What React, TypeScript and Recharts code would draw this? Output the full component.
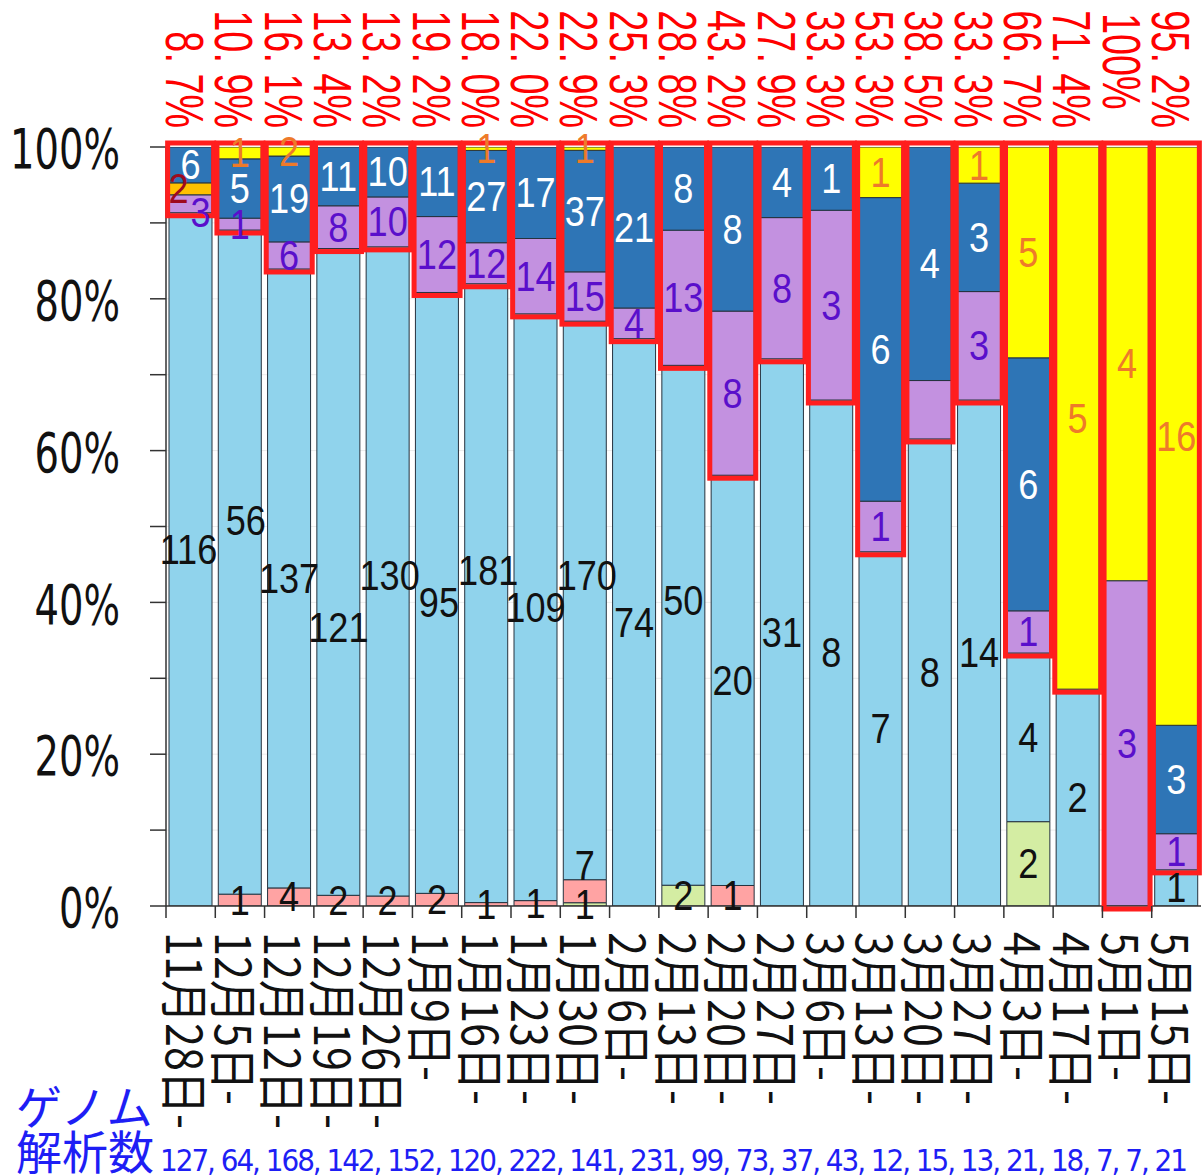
import { BarChart, Bar, XAxis, YAxis, CartesianGrid, ReferenceArea, LabelList } from 'recharts';

// 集計週 (開始日)
const dates = [
  '11月28日', '12月5日', '12月12日', '12月19日', '12月26日', '1月9日', '1月16日',
  '1月23日', '1月30日', '2月6日', '2月13日', '2月20日', '2月27日', '3月6日',
  '3月13日', '3月20日', '3月27日', '4月3日', '4月17日', '5月1日', '5月15日',
];

// ゲノム解析数
const totals = [127, 64, 168, 142, 152, 120, 222, 141, 231, 99, 73, 37, 43, 12, 15, 13, 21, 18, 7, 7, 21];

// series counts, bottom to top of the stack
const lightGreen = [0, 0, 0, 0, 0, 0, 0, 0, 1, 0, 2, 0, 0, 0, 0, 0, 0, 2, 0, 0, 0];
const pink = [0, 1, 4, 2, 2, 2, 1, 1, 7, 0, 0, 1, 0, 0, 0, 0, 0, 0, 0, 0, 0];
const lightBlue = [116, 56, 137, 121, 130, 95, 181, 109, 170, 74, 50, 20, 31, 8, 7, 8, 14, 4, 2, 0, 1];
const purple = [3, 1, 6, 8, 10, 12, 12, 14, 15, 4, 13, 8, 8, 3, 1, 1, 3, 1, 0, 3, 1];
const orange = [2, 0, 0, 0, 0, 0, 0, 0, 0, 0, 0, 0, 0, 0, 0, 0, 0, 0, 0, 0, 0];
const darkBlue = [6, 5, 19, 11, 10, 11, 27, 17, 37, 21, 8, 8, 4, 1, 6, 4, 3, 6, 0, 0, 3];
const yellow = [0, 1, 2, 0, 0, 0, 1, 0, 1, 0, 0, 0, 0, 0, 1, 0, 1, 5, 5, 4, 16];

const W = 1202;
const H = 1176;
const PLOT_LEFT = 166;
const PLOT_RIGHT = 1201;
const BAND = (PLOT_RIGHT - PLOT_LEFT) / dates.length;

const COLORS = {
  lg: '#D4EDA3',
  pink: '#FFA3A3',
  lb: '#90D3EC',
  purple: '#C391E0',
  db: '#2E75B6',
  orange: '#FFC000',
  yellow: '#FFFF00',
};

// hand-placed label nudges (dx, dy) like in the source sheet, keyed by series-column
const nudges: Record<string, [number, number]> = {
  'lb-0': [-2, -10],
  'lb-1': [6, -42],
  'lb-3': [0, 56],
  'lb-4': [2, 4],
  'lb-5': [2, 10],
  'lb-6': [2, -23],
  'lb-8': [2, -25],
  'lb-10': [0, -25],
  'pink-8': [0, -26],
  'purple-0': [10, 9],
  'orange-0': [-12, 0],
};
const hiddenLabels = new Set(['purple-15']);

const rows = dates.map((date, i) => {
  const total = lightGreen[i] + pink[i] + lightBlue[i] + purple[i] + darkBlue[i] + orange[i] + yellow[i];
  const pc = (v: number) => (v / total) * 100;
  return {
    date,
    lg: pc(lightGreen[i]), lgN: lightGreen[i],
    pink: pc(pink[i]), pinkN: pink[i],
    lb: pc(lightBlue[i]), lbN: lightBlue[i],
    purple: pc(purple[i]), purpleN: purple[i],
    orange: pc(orange[i]), orangeN: orange[i],
    db: pc(darkBlue[i]), dbN: darkBlue[i],
    yellow: pc(yellow[i]), yellowN: yellow[i],
    base: pc(lightGreen[i] + pink[i] + lightBlue[i]),
    share: pc(purple[i] + darkBlue[i] + orange[i] + yellow[i]),
  };
});

const fmtShare = (v: number) => {
  if (Math.abs(v - 100) < 1e-9) return '100%';
  const [a, b] = v.toFixed(1).split('.');
  return `${a}. ${b}%`;
};

const makeLabel = (key: string, color: string) => (p: any) => {
  const vb = p.viewBox ?? p;
  const x = vb.x ?? p.x;
  const y = vb.y ?? p.y;
  const width = vb.width ?? p.width;
  const height = vb.height ?? p.height;
  const value = p.value;
  if (!value) return null;
  const col = Math.floor((x + width / 2 - PLOT_LEFT) / BAND);
  const id = `${key}-${col}`;
  if (hiddenLabels.has(id)) return null;
  const [dx, dy] = nudges[id] ?? [0, 0];
  return (
    <text
      transform={`translate(${x + width / 2 + dx},${y + height / 2 + dy}) scale(0.86,1)`}
      textAnchor="middle"
      dominantBaseline="central"
      fontSize={42}
      fontFamily="'Liberation Sans', Arial, sans-serif"
      fill={color}
    >
      {value}
    </text>
  );
};

function YTick(props: any) {
  const { x, y, payload } = props;
  if (payload.value % 20 !== 0) return <g />;
  return (
    <text
      transform={`translate(${x - 28},${y + 2}) scale(0.7,1)`}
      textAnchor="end"
      dominantBaseline="central"
      fontSize={55}
      fontFamily="'DejaVu Sans', sans-serif"
      fill="#111"
    >
      {payload.value}%
    </text>
  );
}

function DateTick(props: any) {
  const { x, y, payload } = props;
  const left = x - BAND / 2;
  return (
    <g>
      <line x1={left} y1={y} x2={left} y2={y + 12} stroke="#333" strokeWidth={1.5} />
      <text
        transform={`translate(${x - 3},${y + 26}) rotate(90) scale(0.88,1)`}
        textAnchor="start"
        dominantBaseline="central"
        fontSize={49}
        fontFamily="'Noto Sans CJK JP', sans-serif"
        fill="#111"
      >
        {payload.value}-
      </text>
    </g>
  );
}

function ShareTick(props: any) {
  const { x, index } = props;
  const v = rows[index]?.share ?? 0;
  const full = Math.abs(v - 100) < 1e-9;
  return (
    <text
      transform={`translate(${x - 6},${full ? 13 : 128}) rotate(90) scale(0.7,1)`}
      textAnchor={full ? 'start' : 'end'}
      dominantBaseline="central"
      fontSize={54}
      fontFamily="'Liberation Sans', Arial, sans-serif"
      fill="#FF0000"
    >
      {fmtShare(v)}
    </text>
  );
}

const OutlineShape = (p: any) => {
  const { x, y, width, height } = p;
  const cx = x + width / 2;
  return (
    <rect
      x={cx - 23}
      y={y - 4}
      width={46}
      height={height + 7}
      fill="none"
      stroke="#FF1E1E"
      strokeWidth={5}
    />
  );
};

const barCommon = {
  stackId: 's',
  xAxisId: 'bottom',
  isAnimationActive: false,
  stroke: '#26323e',
  strokeWidth: 1,
};

export default function App() {
  return (
    <div style={{ position: 'relative', width: W, height: H, background: '#fff' }}>
      <style>{'body{margin:0}'}</style>
      <BarChart
        width={W}
        height={H}
        data={rows}
        margin={{ top: 0, right: W - PLOT_RIGHT, bottom: 0, left: 16 }}
        barSize={43}
      >
        <CartesianGrid xAxisId="bottom" vertical={false} stroke="#ececec" />
        <XAxis
          xAxisId="top"
          orientation="top"
          dataKey="date"
          height={147}
          axisLine={false}
          tickLine={false}
          tick={ShareTick}
          interval={0}
        />
        <XAxis
          xAxisId="bottom"
          dataKey="date"
          height={270}
          axisLine={{ stroke: '#333', strokeWidth: 1.5 }}
          tickLine={false}
          tickSize={0}
          tickMargin={0}
          tick={DateTick}
          interval={0}
        />
        <YAxis
          type="number"
          domain={[0, 100]}
          ticks={[0, 10, 20, 30, 40, 50, 60, 70, 80, 90, 100]}
          width={150}
          tickSize={16}
          tickMargin={2}
          axisLine={{ stroke: '#333', strokeWidth: 1.5 }}
          tickLine={{ stroke: '#333', strokeWidth: 1.5 }}
          tick={YTick}
          allowDataOverflow
        />
        <Bar {...barCommon} dataKey="lg" fill={COLORS.lg}>
          <LabelList dataKey="lgN" content={makeLabel('lg', '#111')} />
        </Bar>
        <Bar {...barCommon} dataKey="pink" fill={COLORS.pink}>
          <LabelList dataKey="pinkN" content={makeLabel('pink', '#111')} />
        </Bar>
        <Bar {...barCommon} dataKey="lb" fill={COLORS.lb}>
          <LabelList dataKey="lbN" content={makeLabel('lb', '#111')} />
        </Bar>
        <Bar {...barCommon} dataKey="purple" fill={COLORS.purple}>
          <LabelList dataKey="purpleN" content={makeLabel('purple', '#5A0FCB')} />
        </Bar>
        <Bar {...barCommon} dataKey="orange" fill={COLORS.orange}>
          <LabelList dataKey="orangeN" content={makeLabel('orange', '#9E0A1E')} />
        </Bar>
        <Bar {...barCommon} dataKey="db" fill={COLORS.db}>
          <LabelList dataKey="dbN" content={makeLabel('db', '#FFFFFF')} />
        </Bar>
        <Bar {...barCommon} dataKey="yellow" fill={COLORS.yellow}>
          <LabelList dataKey="yellowN" content={makeLabel('yellow', '#EE7A2A')} />
        </Bar>
        {rows.map((r) => (
          <ReferenceArea
            key={r.date}
            xAxisId="bottom"
            x1={r.date}
            x2={r.date}
            y1={r.base}
            y2={100}
            ifOverflow="visible"
            shape={OutlineShape}
            zIndex={1500}
          />
        ))}
      </BarChart>
      <svg
        width={W}
        height={H}
        style={{ position: 'absolute', left: 0, top: 0, pointerEvents: 'none' }}
      >
        <text x={16} y={1124} fontSize={46} fontFamily="'Noto Sans CJK JP', sans-serif" fill="#1E1EF5">
          ゲノム
        </text>
        <text x={16} y={1169} fontSize={46} fontFamily="'Noto Sans CJK JP', sans-serif" fill="#1E1EF5">
          解析数
        </text>
        <text
          x={160}
          y={1171}
          fontSize={31}
          fontFamily="'Liberation Sans Narrow', 'DejaVu Sans Condensed', sans-serif"
          fill="#1E1EF5"
          textLength={1028}
          lengthAdjust="spacing"
        >
          {totals.join(', ')}
        </text>
      </svg>
    </div>
  );
}
